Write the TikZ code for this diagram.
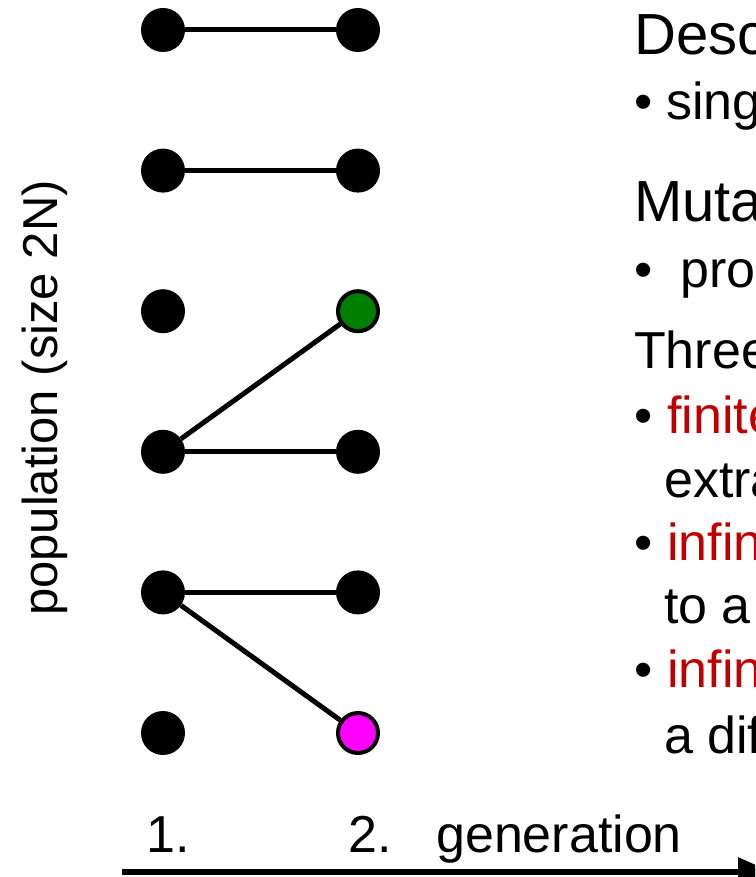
\documentclass[tikz,border=0pt]{standalone}
\usepackage{fontspec}
\setmainfont{Liberation Sans}
\usepackage{tikz}
\usetikzlibrary{arrows.meta}
\usetikzlibrary{positioning}

\definecolor{mutgreen}{RGB}{0,128,0}
\definecolor{mutpink}{RGB}{255,0,255}
\definecolor{darkred}{RGB}{192,0,0}

\tikzset{
  dot/.style={circle, fill=black, minimum size=44pt, inner sep=0pt},
  mutdot/.style={dot, draw=black, line width=4pt, minimum size=40pt},
  link/.style={black, line width=5pt},
  txt/.style={anchor=base west, inner sep=0pt, font=\fontsize{52}{62}\selectfont},
  head/.style={txt, font=\fontsize{58}{70}\selectfont}
}

\begin{document}
\begin{tikzpicture}[x=1pt, y=-1pt]
    \useasboundingbox (0,0) rectangle (755,877);
    \clip (0,0) rectangle (755,877);
    \foreach \i in {1,2,...,6}{\node[dot] (p\i) at (163, {30+140.6*(\i-1)}) {};}
    \foreach \i in {1,2,4,5}{\node[dot] (c\i) at (358, {30+140.6*(\i-1)}) {};}
    \node[mutdot, fill=mutgreen] (c3) at (358, 311.2) {};
    \node[mutdot, fill=mutpink] (c6) at (358, 733) {};
    \draw[link] (p1) -- (c1);
    \draw[link] (p2) -- (c2);
    \draw[link] (p4) -- (c3);
    \draw[link] (p4) -- (c4);
    \draw[link] (p5) -- (c5);
    \draw[link] (p5) -- (c6);
    \node[txt, rotate=90, anchor=base, font=\fontsize{49}{58}\selectfont] (popl) at (57, 398) {population (size 2N)};
    \node[txt] (gen1) at (146, 852) {1.};
    \node[txt] (gen2) at (348, 852) {2.};
    \node[txt] (genl) at (436, 852) {generation};
    \coordinate (ax0) at (122, 872);
    \coordinate (ax1) at (772, 872);
    \draw[line width=6pt, -{Triangle[length=34pt, width=28pt]}] (ax0) -- (ax1);
    \node[head] (h1) at (634, 55) {Desc};
    \node[txt] (l1) at (634, 120) {\makebox[32pt][l]{•}sing};
    \node[head] (h2) at (634, 222) {Muta};
    \node[txt] (l2) at (634, 287) {\makebox[46pt][l]{•}pro};
    \node[txt] (h3) at (634, 368) {Three};
    \node[txt] (l3) at (634, 433) {\makebox[33pt][l]{•}\textcolor{darkred}{finite}};
    \node[txt] (l3b) at (664, 497) {extra};
    \node[txt] (l4) at (634, 560) {\makebox[33pt][l]{•}\textcolor{darkred}{infin}};
    \node[txt] (l4b) at (664, 623) {to a};
    \node[txt] (l5) at (634, 687) {\makebox[33pt][l]{•}\textcolor{darkred}{infin}};
    \node[txt] (l5b) at (664, 753) {a dif};
\end{tikzpicture}
\end{document}
